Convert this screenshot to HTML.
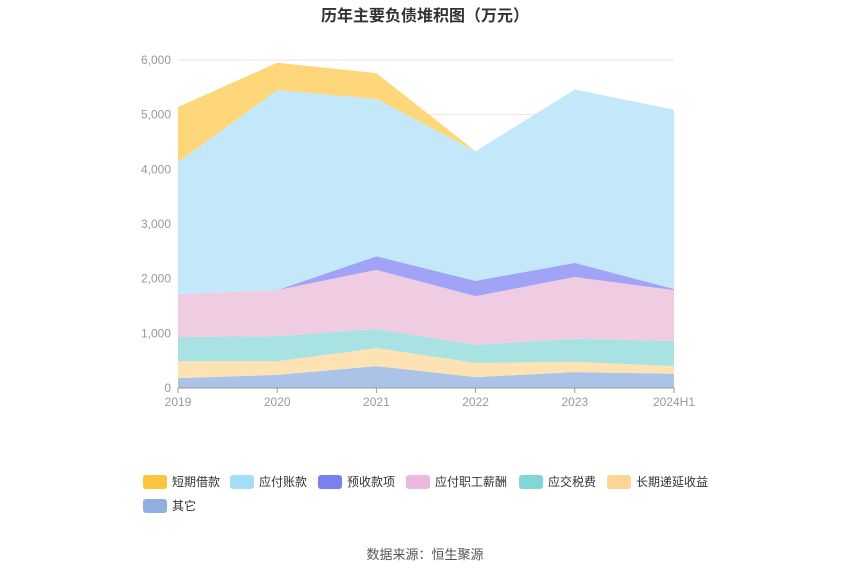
<!DOCTYPE html>
<html><head><meta charset="utf-8">
<style>
body{margin:0;background:#fff;font-family:"Liberation Sans","Noto Sans CJK SC",sans-serif;}
</style></head>
<body>
<svg id="c" width="850" height="575" xmlns="http://www.w3.org/2000/svg">
<text x="425" y="21" text-anchor="middle" font-size="16" font-weight="bold" fill="#333">历年主要负债堆积图（万元）</text>
<g id="grid"></g><g id="areas"></g><g id="axes"></g><g id="legend"></g>
<text x="425" y="559" text-anchor="middle" font-size="13" fill="#555">数据来源：恒生聚源</text>
</svg>
<script>
const categories=["2019","2020","2021","2022","2023","2024H1"];
const seriesNames=["其它","长期递延收益","应交税费","应付职工薪酬","预收款项","应付账款","短期借款"];
const other=[180,240,400,200,290,260];
const deferred=[310,250,330,260,190,140];
const tax=[440,460,350,330,420,460];
const staff=[790,840,1080,890,1130,930];
const prepay=[0,0,250,280,260,20];
const payable=[2410,3660,2880,2370,3170,3280];
const shortLoan=[1010,500,470,0,0,0];
const yTicks=[0,1000,2000,3000,4000,5000,6000];
const yTickLabels=["0","1,000","2,000","3,000","4,000","5,000","6,000"];
const series=[other,deferred,tax,staff,prepay,payable,shortLoan];
const fills=["#aac3e6","#fde3b4","#a8e2e2","#f0cce3","#a0a3f6","#c3e8fa","#fdd77a"];
const legendColors=["#8fb0e0","#fdd695","#83d6d6","#eab8dd","#7b7ff0","#a5ddf7","#fcc540"];
const X0=178,X1=674,Y0=388,Y1=60,YMAX=6000;
const sx=i=>X0+(X1-X0)*i/(categories.length-1);
const sy=v=>Y0-(Y0-Y1)*v/YMAX;
const NS="http://www.w3.org/2000/svg";
function mk(t,a,p){const e=document.createElementNS(NS,t);for(const k in a)e.setAttribute(k,a[k]);p.appendChild(e);return e;}
const grid=document.getElementById('grid'),axes=document.getElementById('axes'),areas=document.getElementById('areas'),legend=document.getElementById('legend');
yTicks.forEach((v,i)=>{
 const l=mk('line',{x1:X0,x2:X1,y1:sy(v),y2:sy(v),stroke:"#e6e6e6"},grid);
 
 
 const t=mk('text',{x:X0-7,y:sy(v)+4,'text-anchor':'end','font-size':12,fill:'#999'},axes);
 t.textContent=yTickLabels[i];
 
 
});
let base=categories.map(()=>0);
series.forEach((s,k)=>{
 const top=base.map((b,i)=>b+s[i]);
 let d="M"+top.map((v,i)=>sx(i)+","+sy(v)).join("L");
 for(let i=categories.length-1;i>=0;i--)d+="L"+sx(i)+","+sy(base[i]);
 const p=mk('path',{d:d+"Z",fill:fills[k]},areas);
 
 
 base=top;
});
const ax=mk('line',{x1:X0,x2:X1,y1:Y0,y2:Y0,stroke:"#999"},axes);


categories.forEach((c,i)=>{
 const tk=mk('line',{x1:sx(i),x2:sx(i),y1:Y0,y2:Y0+5,stroke:"#999"},axes);
 
 
 const t=mk('text',{x:sx(i),y:Y0+18,'text-anchor':'middle','font-size':12,fill:'#999'},axes);
 t.textContent=c;
 
 
});
const legOrder=[6,5,4,3,2,1,0];
const legX=[143,230,318,406,519,607,143];
const legY=[482,482,482,482,482,482,506];
legOrder.forEach((k,j)=>{
 const g=mk('g',{},legend);
 
 
 mk('rect',{x:legX[j],y:legY[j]-7,width:24,height:14,rx:3,fill:legendColors[k]},g);
 const t=mk('text',{x:legX[j]+29,y:legY[j]+4,'font-size':12,fill:'#333'},g);
 t.textContent=seriesNames[k];
});
</script>
</body></html>
